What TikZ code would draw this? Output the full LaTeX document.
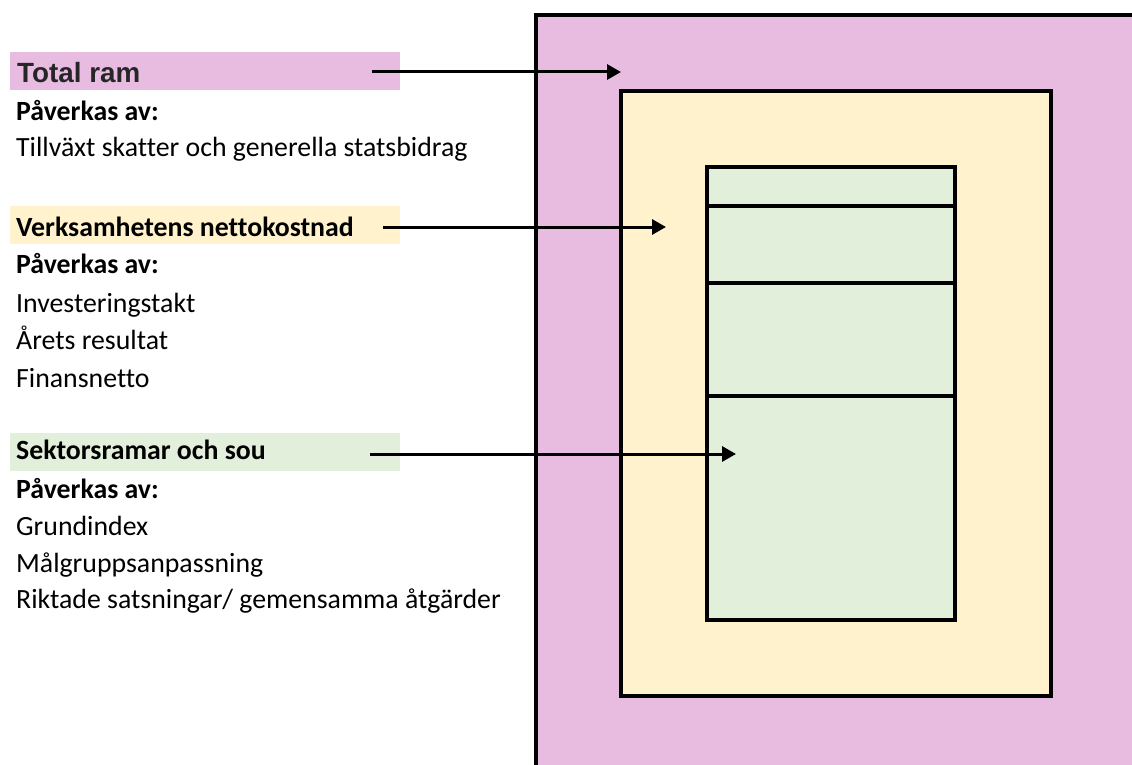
\documentclass[tikz,border=0pt]{standalone}
\usepackage{fontspec}
\setmainfont{Carlito}[Ligatures=NoCommon]
\newfontfamily\arialfont{Liberation Sans}
\usetikzlibrary{arrows.meta}

\definecolor{ramrosa}{RGB}{232,188,224}
\definecolor{ramgul}{RGB}{255,242,204}
\definecolor{ramgron}{RGB}{226,239,218}
\definecolor{ramgra}{RGB}{38,38,38}

\tikzset{
    rubrikbg/.style={anchor=north west, minimum width=390pt, minimum height=38pt, inner sep=0pt},
    rad/.style={anchor=base west, inner sep=0pt, font=\fontsize{27.8pt}{33pt}\selectfont},
    ruta/.style={line width=4pt, draw=black},
    pil/.style={line width=3pt, -{Triangle[length=14pt,width=15pt]}}
}

\begin{document}
\begin{tikzpicture}[x=1pt, y=-1pt]
        \useasboundingbox (0,0) rectangle (1132,765);
        \clip (0,0) rectangle (1132,765);

        % rutorna
        \filldraw[ruta, fill=ramrosa] (536,15) rectangle (1160,790);
        \filldraw[ruta, fill=ramgul] (621,91) rectangle (1051,696);
        \filldraw[ruta, fill=ramgron] (707,167) rectangle (955,620);
        \draw[ruta] (707,206) -- (955,206);
        \draw[ruta] (707,283) -- (955,283);
        \draw[ruta] (707,396) -- (955,396);

        % rubriker
        \node[rubrikbg, fill=ramrosa] (totalbg) at (10,52) {};
        \node[rubrikbg, fill=ramgul] (verkbg) at (10,206) {};
        \node[rubrikbg, fill=ramgron] (sektorbg) at (10,433) {};

        \node[rad, font=\arialfont\bfseries\fontsize{27.8pt}{33pt}\selectfont, text=ramgra] (total) at (17,83) {Total ram};
        \node[rad] (p1) at (16,121) {\bfseries Påverkas av:};
        \node[rad] (t1) at (16,157) {Tillväxt skatter och generella statsbidrag};

        \node[rad] (verk) at (16,236) {\bfseries Verksamhetens nettokostnad};
        \node[rad] (p2) at (16,273) {\bfseries Påverkas av:};
        \node[rad] (t2) at (16,312) {Investeringstakt};
        \node[rad] (t3) at (16,349) {Årets resultat};
        \node[rad] (t4) at (16,387) {Finansnetto};

        \node[rad] (sektor) at (16,459) {\bfseries Sektorsramar och sou};
        \node[rad] (p3) at (16,498) {\bfseries Påverkas av:};
        \node[rad] (t5) at (16,535) {Grundindex};
        \node[rad] (t6) at (16,572) {Målgruppsanpassning};
        \node[rad] (t7) at (16,608) {Riktade satsningar/ gemensamma åtgärder};

        % pilar
        \coordinate (totalut) at (372,72);
        \coordinate (totalin) at (621,72);
        \coordinate (verkut) at (383,227);
        \coordinate (verkin) at (666,227);
        \coordinate (sektorut) at (370,454);
        \coordinate (sektorin) at (736,454);
        \draw[pil] (totalut) -- (totalin);
        \draw[pil] (verkut) -- (verkin);
        \draw[pil] (sektorut) -- (sektorin);
\end{tikzpicture}
\end{document}
